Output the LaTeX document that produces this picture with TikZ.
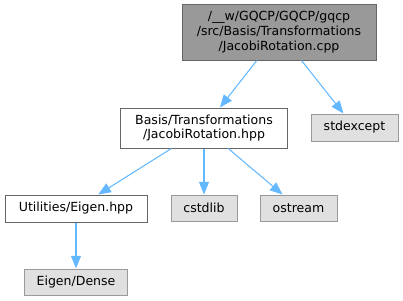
\documentclass[tikz,border=0pt]{standalone}
\usepackage{fontspec}
\setmainfont{DejaVu Sans}
\usetikzlibrary{arrows.meta}
\definecolor{edgeblue}{HTML}{63B8FF}
\definecolor{darkborder}{HTML}{666666}
\definecolor{lightborder}{HTML}{999999}
\definecolor{rootfill}{HTML}{999999}
\definecolor{extfill}{HTML}{E0E0E0}
\begin{document}
\begin{tikzpicture}[x=0.75pt,y=-0.75pt,
  box/.style={draw=darkborder,line width=0.75pt,inner sep=0pt,align=center,
    font=\fontsize{9.4}{11}\selectfont,text=black},
  rootbox/.style={box,fill=rootfill},
  filebox/.style={box,fill=white},
  extbox/.style={box,draw=lightborder,fill=extfill},
  dep/.style={draw=edgeblue,line width=0.8pt,
    -{Triangle[length=9.5pt,width=7.5pt]}}]
\useasboundingbox (0,0) rectangle (403,300);

% files
\node[rootbox,minimum width=194*0.75pt,minimum height=56*0.75pt] (cpp) at (279,32)
  {/\_\_w/GQCP/GQCP/gqcp\\/src/Basis/Transformations\\/JacobiRotation.cpp};
\node[filebox,minimum width=167*0.75pt,minimum height=40*0.75pt] (hpp) at (204,128)
  {Basis/Transformations\\/JacobiRotation.hpp};
\node[extbox,minimum width=87*0.75pt,minimum height=27*0.75pt] (stdexcept) at (354.5,127.5)
  {stdexcept};
\node[filebox,minimum width=142*0.75pt,minimum height=27*0.75pt] (eigen) at (76,208.5)
  {Utilities/Eigen.hpp};
\node[extbox,minimum width=66*0.75pt,minimum height=26*0.75pt] (cstdlib) at (204,208)
  {cstdlib};
\node[extbox,minimum width=77*0.75pt,minimum height=26*0.75pt] (ostream) at (298.5,208)
  {ostream};
\node[extbox,minimum width=103*0.75pt,minimum height=26*0.75pt] (dense) at (76,282)
  {Eigen/Dense};

% include edges
\draw[dep] (cpp) -- (hpp);
\draw[dep] (cpp) -- (stdexcept);
\draw[dep] (hpp) -- (eigen);
\draw[dep] (hpp) -- (cstdlib);
\draw[dep] (hpp) -- (ostream);
\draw[dep] (eigen) -- (dense);
\end{tikzpicture}
\end{document}
